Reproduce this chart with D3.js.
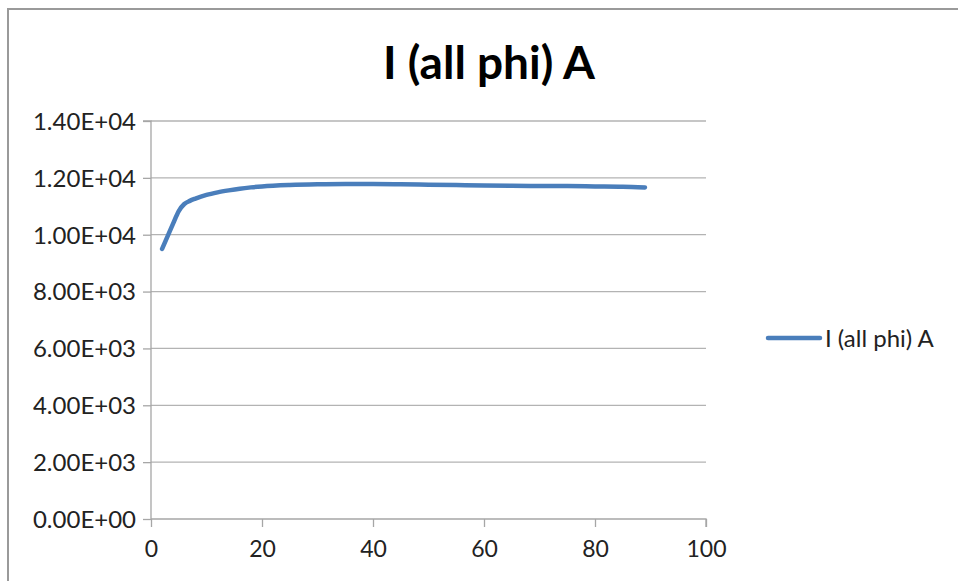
<!DOCTYPE html>
<html><head><meta charset="utf-8">
<script src="https://cdn.jsdelivr.net/npm/d3@7"></script>
<style>
html,body{margin:0;padding:0;background:#fff;}
svg{display:block;font-family:Lato,"Open Sans",sans-serif;}
</style></head>
<body>
<svg id="chart" width="958" height="581"></svg>
<script>
const titleText = "I (all phi) A";
const seriesName = "I (all phi) A";
const xValues = [2, 3, 4, 5, 6, 7, 8, 10, 12, 14, 16, 18, 20, 25, 30, 35, 40, 45, 50, 55, 60, 65, 70, 75, 80, 85, 89];
const yValues = [9500, 9950, 10400, 10830, 11080, 11190, 11270, 11400, 11490, 11560, 11620, 11665, 11700, 11750, 11775, 11785, 11785, 11775, 11760, 11745, 11730, 11720, 11715, 11710, 11700, 11690, 11665];
const yTicks = [0, 2000, 4000, 6000, 8000, 10000, 12000, 14000];
const yTickLabels = ["0.00E+00","2.00E+03","4.00E+03","6.00E+03","8.00E+03","1.00E+04","1.20E+04","1.40E+04"];
const xTicks = [0, 20, 40, 60, 80, 100];

const svg = d3.select("#chart");
const mLeft = 151, mRight = 706, mTop = 121, mBottom = 519;
const x = d3.scaleLinear().domain([0, 100]).range([mLeft, mRight]);
const y = d3.scaleLinear().domain([0, 14000]).range([mBottom, mTop]);

// chart border
svg.append("path").attr("d", "M8,581 L8,9 L958,9").attr("fill","none").attr("stroke","#9a9a9a").attr("stroke-width",2);

// title
svg.append("text").attr("x", 489).attr("y", 79).attr("text-anchor","middle")
  .attr("font-size", 46).attr("font-weight","bold").attr("fill","#000").text(titleText);

// gridlines
svg.append("g").selectAll("line").data(yTicks.filter(d=>d>0)).join("line")
  .attr("x1", mLeft).attr("x2", mRight).attr("y1", d=>y(d)).attr("y2", d=>y(d))
  .attr("stroke","#b3b3b3").attr("stroke-width",1.3);

// y axis
const yAxis = d3.axisLeft(y).tickValues(yTicks).tickSize(8).tickPadding(7)
  .tickFormat((d,i)=>yTickLabels[i]);
const gy = svg.append("g").attr("transform",`translate(${mLeft},0)`).call(yAxis);
gy.select(".domain").attr("stroke","#a6a6a6").attr("stroke-width",1.3).attr("d", `M-8,${mTop}H0V${mBottom}`);
gy.selectAll(".tick line").attr("stroke","#a6a6a6").attr("stroke-width",1.3);
gy.selectAll("text").attr("font-size",24).attr("fill","#222").attr("font-family","Lato,'Open Sans',sans-serif")
  .attr("dy","0.35em");

// x axis
const xAxis = d3.axisBottom(x).tickValues(xTicks).tickSize(8).tickPadding(14).tickFormat(d3.format("d"));
const gx = svg.append("g").attr("transform",`translate(0,${mBottom})`).call(xAxis);
gx.select(".domain").attr("stroke","#a6a6a6").attr("stroke-width",1.3).attr("d", `M${mLeft},0H${mRight}V8`);
gx.selectAll(".tick line").attr("stroke","#a6a6a6").attr("stroke-width",1.3);
gx.selectAll("text").attr("font-size",23).attr("fill","#222").attr("font-family","Lato,'Open Sans',sans-serif");

// line
const data = xValues.map((v,i)=>({x:v, y:yValues[i]}));
const line = d3.line().x(d=>x(d.x)).y(d=>y(d.y)).curve(d3.curveMonotoneX);
svg.append("path").datum(data).attr("d", line).attr("fill","none")
  .attr("stroke","#4a7ebb").attr("stroke-width",4.5).attr("stroke-linecap","round").attr("stroke-linejoin","round");

// legend
svg.append("line").attr("x1",768).attr("x2",820).attr("y1",338).attr("y2",338)
  .attr("stroke","#4a7ebb").attr("stroke-width",4.5).attr("stroke-linecap","round");
svg.append("text").attr("x",825).attr("y",339).attr("dy","0.35em").attr("font-size",24).attr("fill","#222").text(seriesName);
</script>
</body></html>
